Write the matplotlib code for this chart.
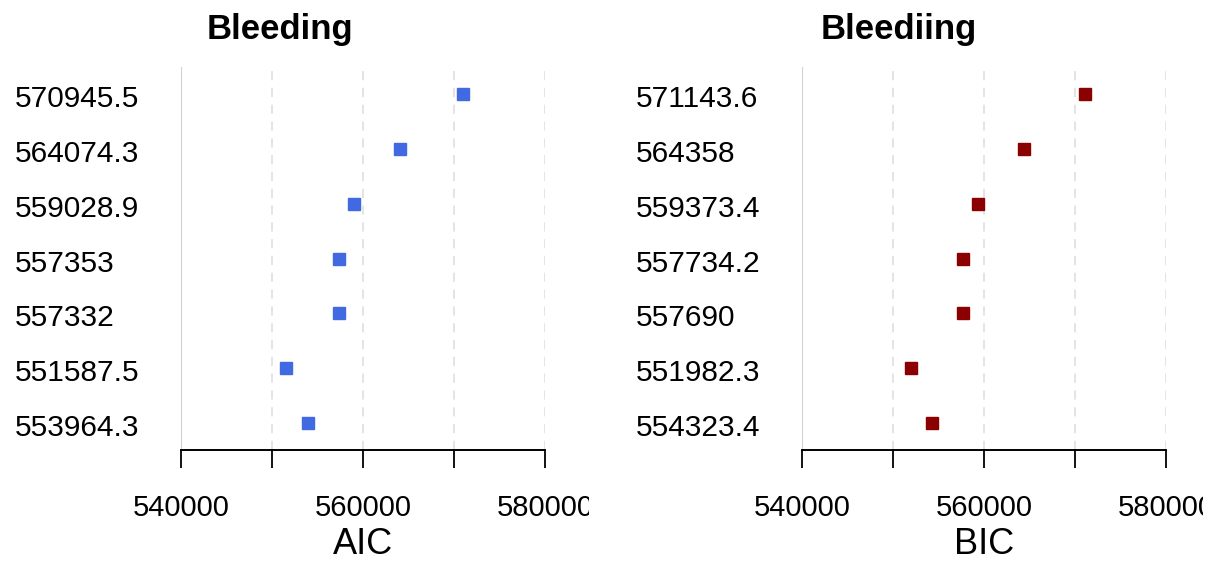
import numpy as np
import matplotlib.pyplot as plt
from matplotlib.transforms import Bbox, TransformedBbox, ScaledTranslation

plt.rcParams['font.family'] = ['Liberation Sans', 'DejaVu Sans']

# model fit criteria, top row first
aic = [570945.5, 564074.3, 559028.9, 557353, 557332, 551587.5, 553964.3]
bic = [571143.6, 564358, 559373.4, 557734.2, 557690, 551982.3, 554323.4]
aic_labels = ['570945.5', '564074.3', '559028.9', '557353', '557332', '551587.5', '553964.3']
bic_labels = ['571143.6', '564358', '559373.4', '557734.2', '557690', '551982.3', '554323.4']
titles = ['Bleeding', 'Bleediing']
xlabels = ['AIC', 'BIC']
colors = ['#4169E1', '#8B0000']

xticks = [540000, 550000, 560000, 570000, 580000]
xticklabels = ['540000', '', '560000', '', '580000']

W, H = 1213, 563
fig = plt.figure(figsize=(W / 100, H / 100), dpi=100)

panels = [
    (181, 589, 280, aic, aic_labels),
    (802, 1203, 899, bic, bic_labels),
]

for i, (x0, clip_right, title_x, vals, labels) in enumerate(panels):
    ax = fig.add_axes([x0 / W, (H - 450) / H, 364 / W, 383 / H])
    ypos = np.arange(len(vals), 0, -1)

    # grid: solid at the origin, dashed elsewhere
    for xv in xticks:
        if xv == xticks[0]:
            ax.axvline(xv, color='#d0d0d0', lw=1.5, zorder=0)
        else:
            ax.axvline(xv, color='#dcdcdc', lw=1.1, ls=(0, (6, 5)), zorder=0)

    ax.plot(vals, ypos, 's', color=colors[i], markersize=8, zorder=3)

    ax.set_xlim(540000, 580000)
    ax.set_ylim(0.5, 7.5)
    for s in ['top', 'right', 'left']:
        ax.spines[s].set_visible(False)
    ax.spines['bottom'].set_linewidth(1.4)

    ax.set_xticks(xticks)
    ax.set_xticklabels(xticklabels, fontsize=21)
    ax.tick_params(axis='x', length=13, width=1.3, pad=19)

    ax.set_yticks(ypos)
    ax.set_yticklabels(labels, fontsize=21.5, ha='left')
    ax.tick_params(axis='y', length=0, pad=120)
    shift = ScaledTranslation(0, -2 / 100, fig.dpi_scale_trans)
    for t in ax.get_yticklabels():
        t.set_transform(t.get_transform() + shift)

    ax.set_xlabel(xlabels[i], fontsize=26, labelpad=3)

    fig.text(title_x / W, 1 - 29 / H, titles[i], fontsize=25, fontweight='bold',
             ha='center', va='center')

    # the last x label runs past the panel edge and gets cut off
    clip = TransformedBbox(Bbox([[0, 0], [clip_right / W, 1]]), fig.transFigure)
    for t in ax.get_xticklabels():
        t.set_clip_box(clip)
        t.set_clip_on(True)

fig.savefig('out.png', dpi=100, facecolor='white')
